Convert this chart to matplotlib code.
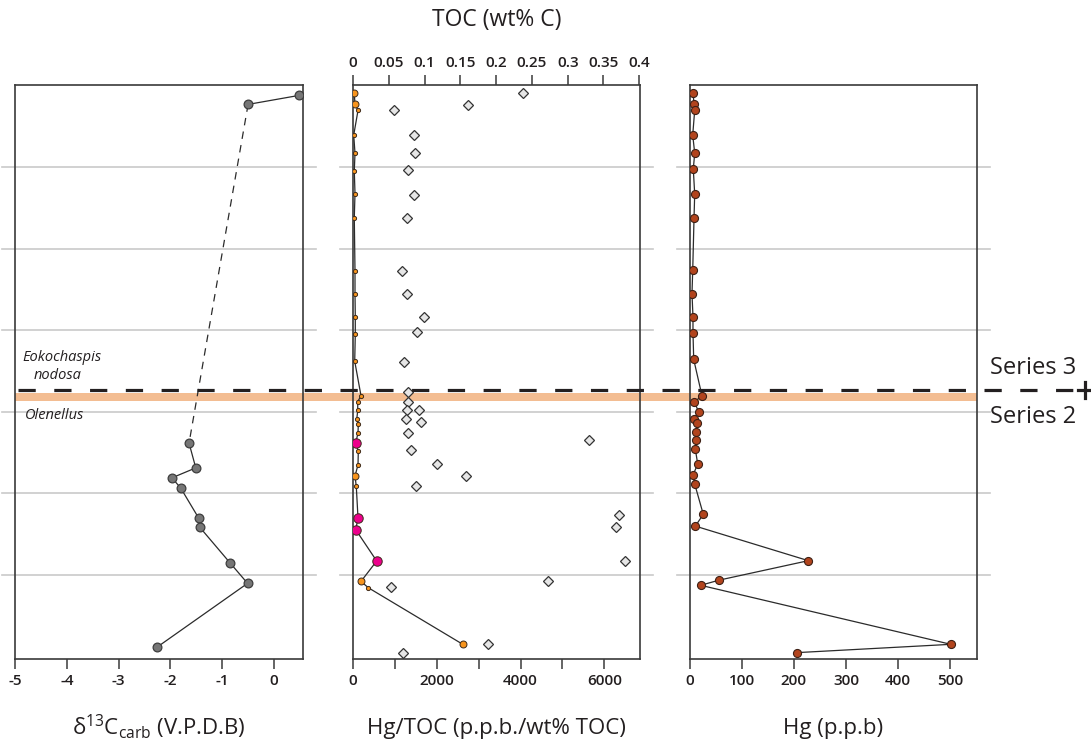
#!/usr/bin/env python3
"""
Chemostratigraphy panels: d13C, Hg/TOC with TOC, and Hg against section height
"""
import matplotlib
matplotlib.use("Agg")
import matplotlib.pyplot as plt
from matplotlib.lines import Line2D
from matplotlib.patches import Rectangle
from matplotlib.transforms import blended_transform_factory

plt.rcParams['font.family'] = ['Open Sans', 'DejaVu Sans']
plt.rcParams['axes.unicode_minus'] = False
plt.rcParams['mathtext.fontset'] = 'custom'
plt.rcParams['mathtext.rm'] = 'Open Sans'

# Section height (m) and measured values
d13c_height = [34.41, 33.86, 13.09, 11.57, 10.96, 10.33, 8.47, 7.92, 5.75, 4.49, 0.57]
d13c_value = [0.48, -0.50, -1.64, -1.51, -1.97, -1.80, -1.45, -1.43, -0.85, -0.51, -2.26]

toc_height = [34.53, 33.86, 33.49, 31.98, 30.86, 29.79, 28.39, 26.92, 23.63, 22.24,
              20.85, 19.75, 18.11, 15.99, 15.64, 15.09, 14.54, 14.25, 13.70, 13.12,
              12.58, 11.76, 11.07, 10.43, 8.49, 7.78, 5.86, 4.61, 4.22, 0.75]
toc_value = [0.0018, 0.0028, 0.0070, 0.0010, 0.0028, 0.0018, 0.0028, 0.0018, 0.0028, 0.0028,
             0.0032, 0.0032, 0.0024, 0.0112, 0.0066, 0.0066, 0.0052, 0.0074, 0.0070, 0.0038,
             0.0074, 0.0070, 0.0028, 0.0046, 0.0070, 0.0038, 0.0331, 0.0112, 0.0214, 0.1534]
# sample class for each TOC point: 'a' small, 'b' large, 'c' highlighted
toc_class = ['b', 'b', 'a', 'a', 'a', 'a', 'a', 'a', 'a', 'a',
             'a', 'a', 'a', 'a', 'a', 'a', 'a', 'a', 'a', 'c',
             'a', 'a', 'b', 'a', 'c', 'c', 'c', 'b', 'a', 'b']

hgtoc_height = [34.53, 33.84, 33.51, 31.96, 30.86, 29.83, 28.33, 26.89, 23.63, 22.24,
                20.85, 19.91, 18.09, 16.23, 15.64, 15.11, 15.11, 14.56, 14.36, 13.72,
                13.27, 12.66, 11.78, 11.07, 10.43, 8.66, 7.96, 5.86, 4.61, 4.25,
                0.75, 0.20]
hgtoc_value = [4067, 2751, 982, 1467, 1482, 1301, 1467, 1284, 1172, 1277,
               1688, 1539, 1229, 1301, 1301, 1277, 1570, 1260, 1617, 1308,
               5636, 1379, 1998, 2687, 1505, 6357, 6278, 6499, 4654, 911,
               3234, 1196]

hg_height = [34.58, 33.90, 33.51, 31.98, 30.87, 29.89, 28.36, 26.89, 23.69, 22.26,
             20.83, 19.87, 18.22, 15.99, 15.62, 15.01, 14.59, 14.33, 13.76, 13.29,
             12.72, 11.80, 11.13, 10.58, 8.72, 8.00, 5.88, 4.69, 4.37, 0.75, 0.24]
hg_value = [6.3, 8.3, 9.6, 5.8, 9.6, 6.9, 9.6, 8.3, 5.8, 4.4,
            6.3, 6.3, 7.7, 23.6, 9.2, 16.9, 8.3, 14.6, 11.5, 12.7,
            10.8, 15.4, 6.3, 9.6, 26.1, 10.8, 227.8, 56.9, 21.1, 501.3, 205.5]

grid_heights = [5, 10, 15, 20, 25, 30]
boundary_height = 16.33
band_bottom, band_top = 15.68, 16.17

d13c_ticks = [-5, -4, -3, -2, -1, 0]
hgtoc_ticks = [0, 1000, 2000, 3000, 4000, 5000, 6000]
toc_ticks = [0, 0.05, 0.1, 0.15, 0.2, 0.25, 0.3, 0.35, 0.4]
hg_ticks = [0, 100, 200, 300, 400, 500]

INK = '#231f20'
SPINE = '#3a3a3a'
W, H = 1091, 743


def px(x, y):
    return x / W, 1 - y / H


def style_box(ax):
    ax.set_facecolor('none')
    for spine in ax.spines.values():
        spine.set_edgecolor(SPINE)
        spine.set_linewidth(1.2)
    ax.set_yticks([])
    ax.set_ylim(-0.15, 35.05)
    ax.tick_params(axis='x', direction='out', length=7, width=1.1, color=SPINE,
                   labelsize=11, labelcolor=INK, pad=4)
    for lab in ax.get_xticklabels():
        lab.set_fontweight('semibold')
    for g in grid_heights:
        ax.plot([-0.045, 1.045], [g, g], transform=ax.get_yaxis_transform(),
                color='#c9c9c9', lw=1.2, clip_on=False, zorder=0.5)


fig = plt.figure(figsize=(W / 100, H / 100), dpi=100)

top_px, bot_px = 85, 659
ax_h = (bot_px - top_px) / H
ax_y = 1 - bot_px / H
ax1 = fig.add_axes([15 / W, ax_y, 288 / W, ax_h])
ax2 = fig.add_axes([353 / W, ax_y, 287 / W, ax_h])
ax3 = fig.add_axes([689.7 / W, ax_y, 287 / W, ax_h])

# d13C carb
ax1.set_xlim(-5, 0.56)
ax1.set_xticks(d13c_ticks)
ax1.set_xticklabels([str(t) for t in d13c_ticks])
style_box(ax1)
mk1 = dict(marker='o', ms=6.3, mfc='#767676', mec='#3d3d3d', mew=0.9, color='#2b2b2b', lw=0.9)
ax1.plot(d13c_value[:2], d13c_height[:2], **mk1, zorder=3)
ax1.plot(d13c_value[1:3], d13c_height[1:3], color='#2b2b2b', lw=0.9,
         linestyle=(0, (6, 5)), zorder=2)
ax1.plot(d13c_value[2:], d13c_height[2:], **mk1, zorder=3)

# Hg/TOC (bottom) with TOC (top)
ax2.set_xlim(0, 6850)
ax2.set_xticks(hgtoc_ticks)
ax2.set_xticklabels([str(t) if t % 2000 == 0 else '' for t in hgtoc_ticks])
style_box(ax2)
ax2.plot(hgtoc_value, hgtoc_height, linestyle='none', marker='D', ms=4.8,
         mfc='#e6e6e6', mec='#333333', mew=0.9, zorder=3)

ax2t = ax2.twiny()
ax2t.set_xlim(0, 0.401)
ax2t.set_ylim(-0.15, 35.05)
ax2t.set_xticks(toc_ticks)
ax2t.set_xticklabels([f'{t:g}' for t in toc_ticks])
ax2t.xaxis.set_ticks_position('top')
ax2t.tick_params(axis='x', direction='out', length=7, width=1.1, color=SPINE,
                 labelsize=11, labelcolor=INK, pad=4)
for lab in ax2t.get_xticklabels():
    lab.set_fontweight('semibold')
for spine in ax2t.spines.values():
    spine.set_visible(False)
ax2t.plot(toc_value, toc_height, color='#2b2b2b', lw=0.9, zorder=3)
toc_style = {
    'a': dict(ms=3.0, mfc='#f7941d'),
    'b': dict(ms=5.0, mfc='#f7941d'),
    'c': dict(ms=6.8, mfc='#ec008c'),
}
for cls, st in toc_style.items():
    xs = [v for v, c in zip(toc_value, toc_class) if c == cls]
    ys = [h for h, c in zip(toc_height, toc_class) if c == cls]
    ax2t.plot(xs, ys, linestyle='none', marker='o', mec='#3d2a1a', mew=0.7,
              zorder=4, **st)

# Hg
ax3.set_xlim(0, 551)
ax3.set_xticks(hg_ticks)
ax3.set_xticklabels([str(t) for t in hg_ticks])
style_box(ax3)
ax3.plot(hg_value, hg_height, color='#2b2b2b', lw=0.9, marker='o', ms=5.8,
         mfc='#b2441d', mec='#3d2015', mew=0.8, zorder=3)

# Series 2 / Series 3 boundary across all panels
tr = blended_transform_factory(fig.transFigure, ax1.transData)
fig.add_artist(Rectangle((15 / W, band_bottom), (977 - 15) / W, band_top - band_bottom,
                         transform=tr, facecolor='#f3bd92', edgecolor='none', zorder=-1))
fig.add_artist(Line2D([18 / W, 1085 / W], [boundary_height, boundary_height], transform=tr,
                      color=INK, lw=2.3, linestyle=(0, (5.4, 5.8)), zorder=5))
fig.add_artist(Line2D([1085 / W, 1085 / W], [boundary_height - 0.5, boundary_height + 0.5],
                      transform=tr, color=INK, lw=2.3, zorder=5))
fig.add_artist(Line2D([1078 / W, 1091 / W], [boundary_height, boundary_height],
                      transform=tr, color=INK, lw=2.3, zorder=5))

fig.text(*px(990, 374.3), 'Series 3', fontsize=17, color=INK, va='baseline', ha='left')
fig.text(*px(990, 422.7), 'Series 2', fontsize=17, color=INK, va='baseline', ha='left')

fig.text(*px(22, 360.7), 'Eokochaspis', fontsize=10.5, style='italic', color=INK, va='baseline')
fig.text(*px(34, 379.3), 'nodosa', fontsize=10.5, style='italic', color=INK, va='baseline')
fig.text(*px(25, 419.3), 'Olenellus', fontsize=10.5, style='italic', color=INK, va='baseline')

# Axis titles
fig.text(*px(159, 734.3), r'$\mathregular{\delta^{13}C_{carb}}$ (V.P.D.B)', fontsize=16,
         color=INK, ha='center', va='baseline')
fig.text(*px(496.5, 734.3), 'Hg/TOC (p.p.b./wt% TOC)', fontsize=16, color=INK,
         ha='center', va='baseline')
fig.text(*px(833, 734.3), 'Hg (p.p.b)', fontsize=16, color=INK, ha='center', va='baseline')
fig.text(*px(496.5, 26), 'TOC (wt% C)', fontsize=16.5, color=INK, ha='center', va='baseline')

fig.savefig('out.png', dpi=100, facecolor='white')
plt.close(fig)
